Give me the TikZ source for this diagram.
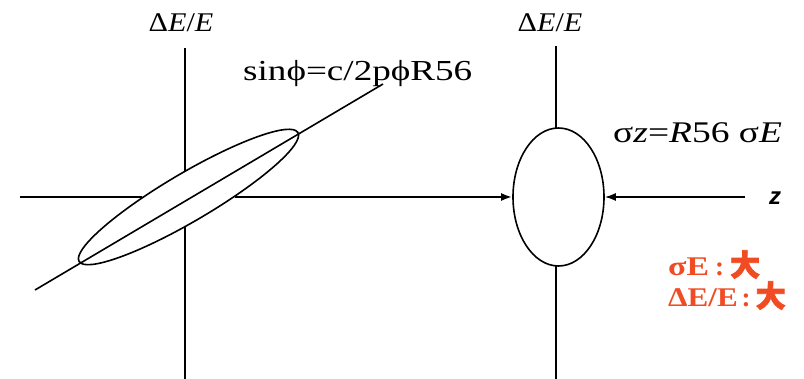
\documentclass[tikz,border=0pt]{standalone}
\usepackage{fontspec}
\setmainfont{Liberation Serif}
\newfontfamily\sansz{Liberation Sans}
\newfontfamily\cjkf[FakeBold=2.5]{Noto Sans CJK SC}
\usetikzlibrary{shapes.geometric,arrows.meta}
\definecolor{redtxt}{RGB}{240,75,35}
\tikzset{
  axis/.style={line width=1.6pt},
  beam/.style={ellipse,draw,fill=white,line width=1.6pt,inner sep=0pt},
  conn/.style={line width=1.6pt,-{Latex[length=11pt,width=8pt]}},
  lbl/.style={inner sep=0pt,anchor=base}
}
\begin{document}
\begin{tikzpicture}[x=1pt,y=-1pt]
\useasboundingbox (0,0) rectangle (804,379);
% left axes
\coordinate (L1) at (185,48);
\coordinate (L2) at (185,379);
\coordinate (H1) at (20,197);
\coordinate (A1) at (470,197);
\draw[axis] (L1) -- (L2);
% right axes
\coordinate (R1) at (556,46);
\coordinate (R2) at (556,379);
\coordinate (H2) at (745,197);
\draw[axis] (R1) -- (R2);
% ellipses
\node[beam,minimum width=254pt,minimum height=48pt,rotate=30.5] (E1) at (188.5,197) {};
\node[beam,minimum width=91pt,minimum height=138pt] (E2) at (558.5,197) {};
% horizontal axis pieces
\draw[axis] (H1) -- (E1);
\draw[axis] (E1) -- (A1);
\draw[conn,line width=2.2pt] (A1) -- (E2.west);
\draw[conn] (H2) -- (E2.east);
% diagonal
\coordinate (D1) at (35,290);
\coordinate (D2) at (383,84);
\draw[axis] (D1) -- (D2);
% labels
\node[lbl] (t1) at (181,32) {\scalebox{1.12}[1]{\fontsize{27}{27}\selectfont Δ\textit{E}/\textit{E}}};
\node[lbl] (t2) at (550,32) {\scalebox{1.12}[1]{\fontsize{27}{27}\selectfont Δ\textit{E}/\textit{E}}};
\node[lbl,anchor=base west] (t3) at (243,81) {\scalebox{1.28}[1]{\fontsize{29}{29}\selectfont sinϕ=c/2pϕR56}};
\node[lbl,anchor=base west] (t4) at (613,143) {\scalebox{1.25}[1]{\fontsize{30}{30}\selectfont σ\textit{z}=\textit{R}56 σ\textit{E}}};
\node[lbl,anchor=base west] (t5) at (769,205) {\sansz\bfseries\itshape\fontsize{24}{24}\selectfont z};
\node[lbl,anchor=base west,text=redtxt] (t6) at (668,276) {\bfseries\fontsize{27}{27}\selectfont\scalebox{1.25}[1]{σE}\hspace{6pt}:\hspace{6pt}{\cjkf\fontsize{30}{30}\selectfont 大}};
\node[lbl,anchor=base west,text=redtxt] (t7) at (668,307) {\bfseries\fontsize{27}{27}\selectfont\scalebox{1.15}[1]{ΔE/E}\hspace{4pt}:\hspace{5pt}{\cjkf\fontsize{30}{30}\selectfont 大}};
\end{tikzpicture}
\end{document}
